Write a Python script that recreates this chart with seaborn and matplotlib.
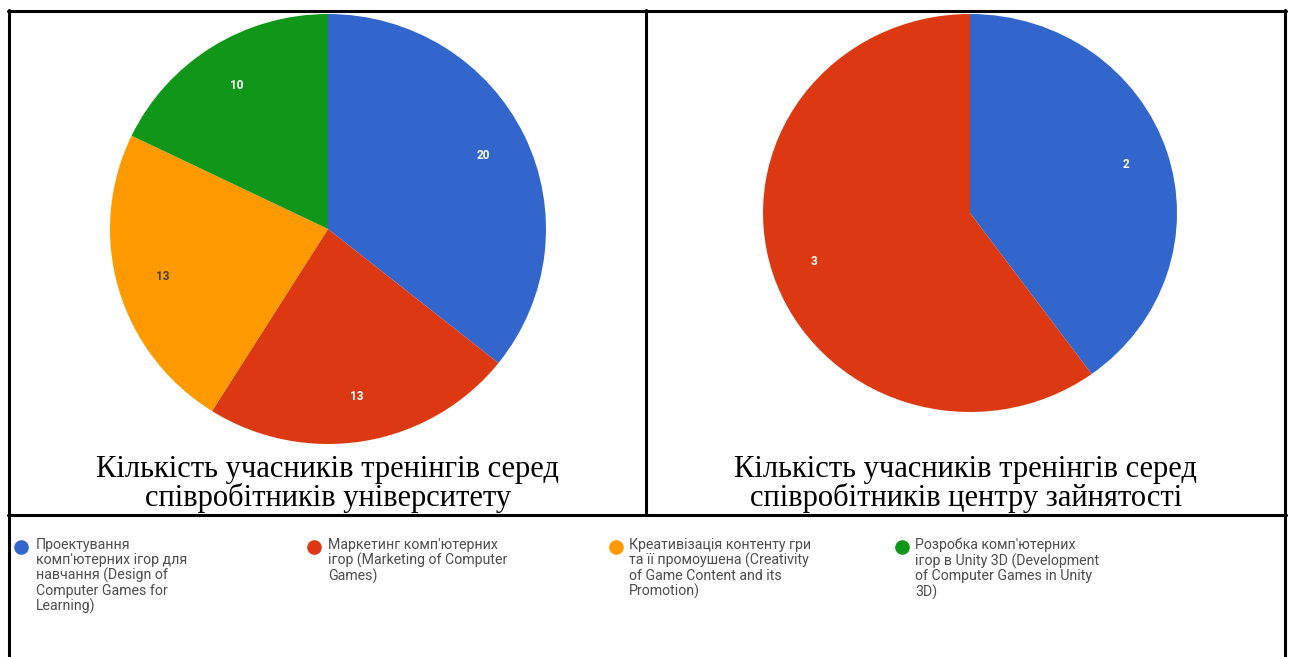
import matplotlib
matplotlib.use("Agg")
import matplotlib.pyplot as plt
import seaborn as sns
from matplotlib.lines import Line2D

# ---- data ----
categories = [
    "Проектування\nкомп'ютерних ігор для\nнавчання (Design of\nComputer Games for\nLearning)",
    "Маркетинг комп'ютерних\nігор (Marketing of Computer\nGames)",
    "Креативізація контенту гри\nта її промоушена (Creativity\nof Game Content and its\nPromotion)",
    "Розробка комп'ютерних\nігор в Unity 3D (Development\nof Computer Games in Unity\n3D)",
]
university_values = [20, 13, 13, 10]
employment_center_values = [2, 3, 0, 0]
titles = [
    "Кількість учасників тренінгів серед\nспівробітників університету",
    "Кількість учасників тренінгів серед\nспівробітників центру зайнятості",
]
palette = sns.color_palette(["#3366CC", "#DC3912", "#FF9900", "#109618"])
label_colors = ["white", "white", "#4a4030", "white"]

sns.set_theme(style="white")
plt.rcParams['font.family'] = ['Roboto', 'DejaVu Sans']

W, H = 1290, 657
fig = plt.figure(figsize=(W / 100, H / 100), dpi=100)
fig.patch.set_facecolor("white")


def px_axes(cx, cy, rx, ry):
    return fig.add_axes([(cx - rx) / W, 1 - (cy + ry) / H, 2 * rx / W, 2 * ry / H])


def draw_pie(ax, values):
    idx = [i for i, v in enumerate(values) if v > 0]
    vals = [values[i] for i in idx]
    wedges, texts = ax.pie(
        vals,
        colors=[palette[i] for i in idx],
        labels=[str(v) for v in vals],
        labeldistance=0.79,
        startangle=90,
        counterclock=False,
        radius=1,
        wedgeprops=dict(linewidth=0),
        textprops=dict(fontsize=8.5, fontweight="bold"),
    )
    for t, i in zip(texts, idx):
        t.set_ha("center")
        t.set_va("center")
        t.set_color(label_colors[i])
    ax.set_aspect("auto")
    ax.set_xlim(-1, 1)
    ax.set_ylim(-1, 1)
    ax.axis("off")


ax1 = px_axes(328, 229, 218, 215)
draw_pie(ax1, university_values)
ax2 = px_axes(970, 213, 207, 199)
draw_pie(ax2, employment_center_values)

# titles
for cx, title in zip([328, 966], titles):
    fig.text(cx / W, 1 - 484 / H, title, ha="center", va="center",
             family=["Liberation Serif", "DejaVu Serif"], fontsize=22,
             color="black", linespacing=0.92)

# table borders
def hline(y, x1, x2):
    fig.add_artist(Line2D([x1 / W, x2 / W], [1 - y / H, 1 - y / H],
                          transform=fig.transFigure, color="black", lw=2.2))


def vline(x, y1, y2):
    fig.add_artist(Line2D([x / W, x / W], [1 - y1 / H, 1 - y2 / H],
                          transform=fig.transFigure, color="black", lw=2.2))


hline(11, 8, 1286)
hline(515, 8, 1286)
vline(9, 10, 657)
vline(1285, 10, 657)
vline(646, 10, 515)

# legend
marker_x = [21, 314, 616, 902]
text_x = [36, 328, 629, 915]
for mx, tx, lab, col in zip(marker_x, text_x, categories, palette):
    fig.add_artist(Line2D([mx / W], [1 - 547 / H], marker="o", markersize=9.5,
                          color=col, linestyle="none", transform=fig.transFigure))
    fig.text(tx / W, 1 - 538 / H, lab, ha="left", va="top", fontsize=10.2,
             color="#4d4d4d", linespacing=1.07)

fig.savefig("out.png", dpi=100, facecolor="white")
